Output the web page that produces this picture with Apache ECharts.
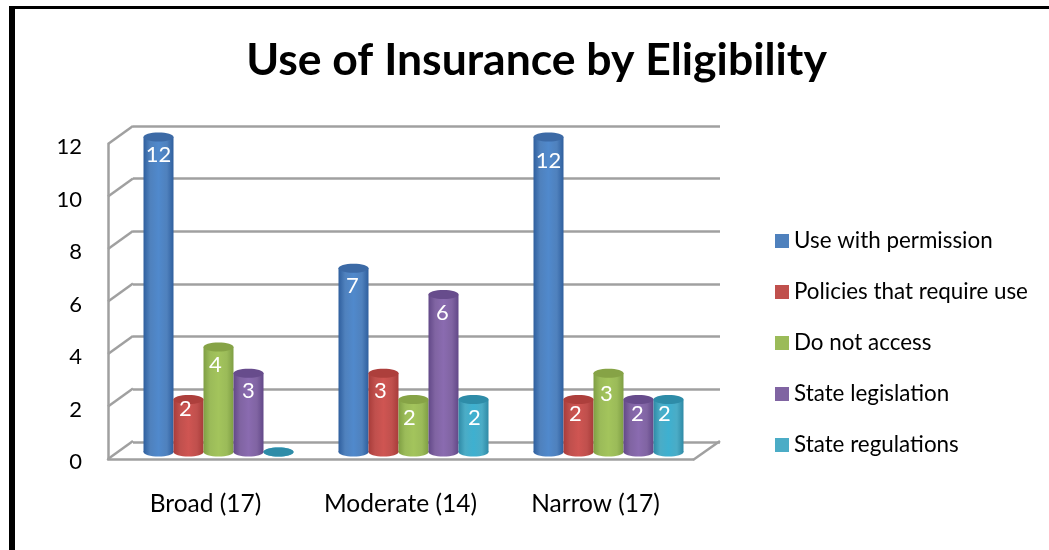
<!DOCTYPE html>
<html>
<head>
<meta charset="utf-8">
<style>html,body{margin:0;padding:0;background:#fff}#c{width:1049px;height:550px}</style>
<script src="https://cdn.jsdelivr.net/npm/echarts@6/dist/echarts.min.js"></script>
</head>
<body>
<div id="c"></div>
<script>
const titleText = 'Use of Insurance by Eligibility';
const categories = ['Broad (17)', 'Moderate (14)', 'Narrow (17)'];
const valueTicks = [0, 2, 4, 6, 8, 10, 12];
const seriesNames = ['Use with permission', 'Policies that require use', 'Do not access', 'State legislation', 'State regulations'];
const usePermission = [12, 7, 12];
const policiesRequire = [2, 3, 2];
const doNotAccess = [4, 2, 3];
const stateLegislation = [3, 6, 2];
const stateRegulations = [0, 2, 2];
const seriesValues = [usePermission, policiesRequire, doNotAccess, stateLegislation, stateRegulations];

// styles: [legend, edge, centre, cap]
const palette = [
  ['#4f81bd', '#2f5f9e', '#5089cc', '#3c6aa6'],
  ['#c0504d', '#a83c3a', '#cf5552', '#ad3f3c'],
  ['#9bbb59', '#7f9f44', '#a3c45c', '#86a346'],
  ['#8064a2', '#624888', '#8a6bb0', '#674c8c'],
  ['#4bacc6', '#2f8aa6', '#3eb0d0', '#2e8ca8']
];
// per-label placement tweaks, [dx, dy] by series then category
const labelNudges = [
  [[0, 0], [-1, 0], [0, 6]],
  [[-3, -9], [-3, 0], [-3, -4]],
  [[-3, 0], [-4, 0], [-2, 3]],
  [[0, 0], [-1, 0], [-1, -4]],
  [[0, 0], [1, 0], [-4, -4]]
];
const gridGrey = '#a0a0a0';
const wallDx = 25, wallDy = -18;
const frontGrid = { left: 108, top: 144, width: 585, height: 315 };
const backGrid  = { left: 133, top: 126, width: 587, height: 316 };
const barGrid   = { left: 121, top: 137, width: 585, height: 315 };
const barW = 30, capH = 9, labelDrop = 18;

function grad(p) {
  return new echarts.graphic.LinearGradient(0, 0, 1, 0, [
    { offset: 0, color: p[1] }, { offset: 0.22, color: p[0] }, { offset: 0.5, color: p[2] },
    { offset: 0.78, color: p[0] }, { offset: 1, color: p[1] }
  ]);
}

// one ellipse per datum, placed by the axes; top=true sits at the value, otherwise at the baseline
function capRenderer(seriesIdx, top, color) {
  return (params, api) => {
    const cat = api.value(0), val = api.value(1);
    const pt = api.coord([cat, top ? val : 0]);
    const cx = pt[0] + (seriesIdx - 2) * barW;
    return { type: 'ellipse', shape: { cx, cy: pt[1], rx: barW / 2, ry: capH / 2 }, style: { fill: color } };
  };
}
// value label, drawn above the caps
function labelRenderer(seriesIdx) {
  return (params, api) => {
    const cat = api.value(0), val = api.value(1);
    if (val === 0) return null;
    const pt = api.coord([cat, val]);
    const nudge = labelNudges[seriesIdx][cat];
    return { type: 'text', x: pt[0] + (seriesIdx - 2) * barW + nudge[0], y: pt[1] + labelDrop + nudge[1],
      style: { text: String(val), fill: '#fff', font: '22px Lato', align: 'center', verticalAlign: 'middle' } };
  };
}

const series = [];
// side walls and floor
series.push({
  type: 'custom', xAxisIndex: 0, yAxisIndex: 0, silent: true, z: 1, clip: false,
  data: valueTicks,
  renderItem(params, api) {
    const cs = params.coordSys;
    const y = api.coord([0, api.value(0)])[1];
    const style = { stroke: gridGrey, lineWidth: 2.5, fill: null };
    const kids = [{ type: 'line', shape: { x1: cs.x, y1: y, x2: cs.x + wallDx, y2: y + wallDy }, style }];
    if (api.value(0) === 0) {
      kids.push({ type: 'line', shape: { x1: cs.x + cs.width, y1: y + 1, x2: cs.x + cs.width + wallDx + 2, y2: y + wallDy }, style });
    }
    return { type: 'group', children: kids };
  },
  encode: { y: 0 }
});
seriesNames.forEach((name, i) => {
  const p = palette[i];
  const capData = seriesValues[i].map((v, c) => [c, v]);
  series.push({
    type: 'custom', name, xAxisIndex: 2, yAxisIndex: 2, z: 3, silent: true, clip: false,
    renderItem: capRenderer(i, false, grad(p)), encode: { x: 0, y: 1 }, data: capData
  });
  series.push({
    type: 'bar', name, xAxisIndex: 2, yAxisIndex: 2, z: 4,
    barWidth: barW, barGap: 0,
    itemStyle: { color: grad(p) },
    data: seriesValues[i]
  });
  series.push({
    type: 'custom', name, xAxisIndex: 2, yAxisIndex: 2, z: 5, silent: true, clip: false,
    renderItem: capRenderer(i, true, p[3]), encode: { x: 0, y: 1 }, data: capData
  });
  series.push({
    type: 'custom', name, xAxisIndex: 2, yAxisIndex: 2, z: 6, silent: true, clip: false,
    renderItem: labelRenderer(i), encode: { x: 0, y: 1 }, data: capData
  });
});

function hiddenY(idx) {
  return { type: 'value', gridIndex: idx, min: 0, max: 12, interval: 2, show: idx === 1, axisLine: { show: false }, axisTick: { show: false }, axisLabel: { show: false },
    splitLine: { show: idx === 1, lineStyle: { color: gridGrey, width: 2.5 } } };
}
function hiddenX(idx) {
  return { type: 'category', gridIndex: idx, data: categories, show: false };
}

const chart = echarts.init(document.getElementById('c'), null, { renderer: 'canvas' });
chart.setOption({
  animation: false,
  backgroundColor: '#fff',
  title: {
    text: titleText, left: 531.5, top: 33, textAlign: 'center',
    textStyle: { fontFamily: 'Lato', fontWeight: 'bold', fontSize: 44.5, color: '#000' }
  },
  legend: {
    left: 775, top: 230, padding: 0, orient: 'vertical', icon: 'rect', itemWidth: 14, itemHeight: 14, itemGap: 29, selectedMode: false,
    textStyle: { fontFamily: 'Lato', fontSize: 22.4, lineHeight: 20, color: '#000', padding: [0, 0, 0, 0] },
    data: seriesNames.map((name, i) => ({ name, itemStyle: { color: palette[i][0] } }))
  },
  grid: [frontGrid, backGrid, barGrid],
  xAxis: [
    { type: 'category', gridIndex: 0, data: categories, axisTick: { show: false },
      axisLine: { lineStyle: { color: gridGrey, width: 2.5 }, onZero: false },
      axisLabel: { color: '#000', fontFamily: 'Lato', fontSize: 24.5, margin: 33, interval: 0, hideOverlap: false } },
    hiddenX(1), hiddenX(2)
  ],
  yAxis: [
    { type: 'value', gridIndex: 0, min: 0, max: 12, interval: 2, splitLine: { show: false }, axisTick: { show: false },
      axisLine: { show: true, lineStyle: { color: gridGrey, width: 2.5 } },
      axisLabel: { color: '#000', fontFamily: 'Lato', fontSize: 22, margin: 26, verticalAlign: 'top', lineHeight: 6 } },
    hiddenY(1), hiddenY(2)
  ],
  graphic: [
    { type: 'rect', shape: { x: 9, y: 6, width: 6, height: 544 }, style: { fill: '#000' }, silent: true },
    { type: 'rect', shape: { x: 9, y: 6, width: 1040, height: 3 }, style: { fill: '#000' }, silent: true }
  ],
  series
});
</script>
</body>
</html>
